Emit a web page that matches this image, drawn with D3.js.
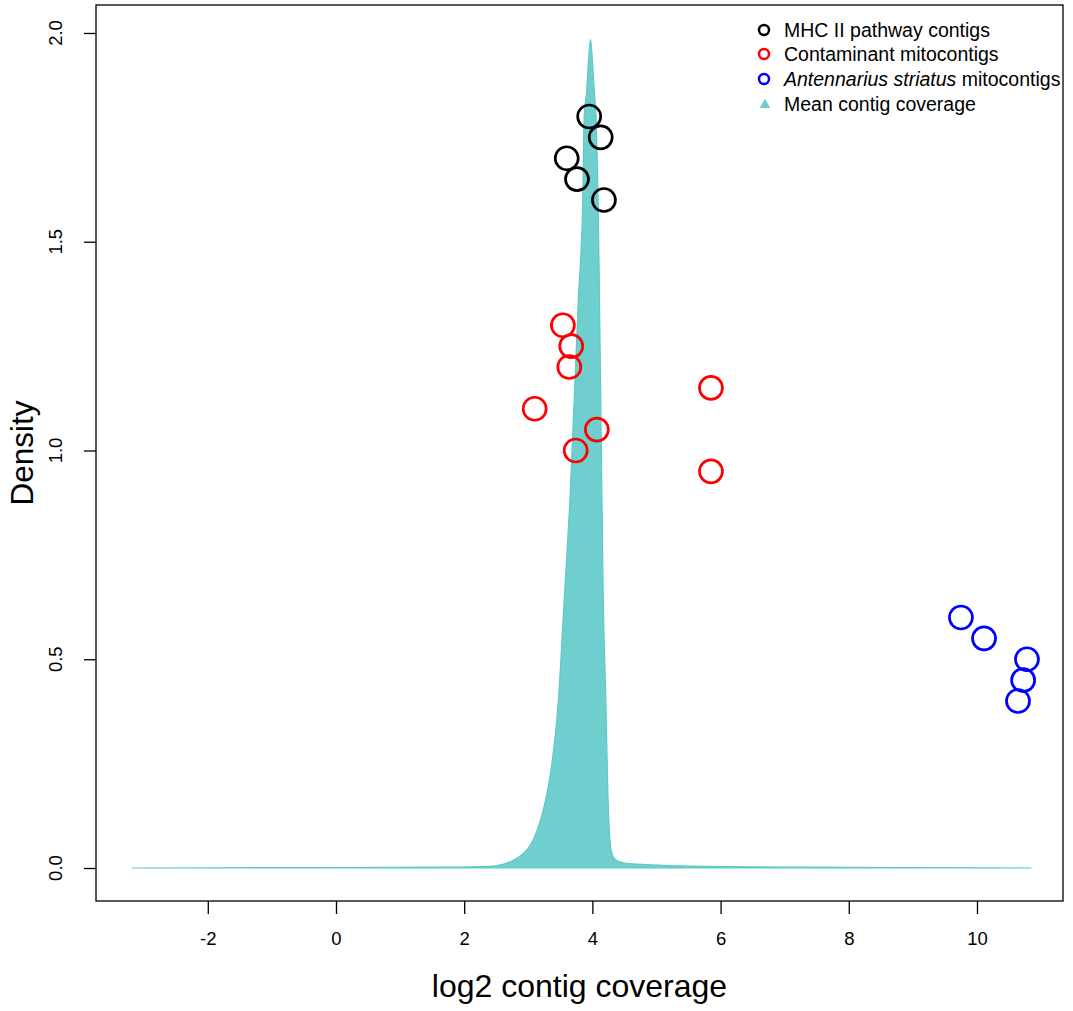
<!DOCTYPE html>
<html>
<head>
<meta charset="utf-8">
<script src="https://cdn.jsdelivr.net/npm/d3@7"></script>
<style>
  html, body { margin: 0; padding: 0; background: #fff; }
  svg { display: block; font-family: "Liberation Sans", Arial, Helvetica, sans-serif; }
</style>
</head>
<body>
<svg id="chart" width="1073" height="1011"></svg>
<script>
// Kernel density of log2 contig coverage
const densityX = [-3.19, -0.56, 1.78, 2.40, 2.60, 2.76, 2.90, 3.00, 3.10, 3.19, 3.28, 3.34, 3.47, 3.56, 3.65, 3.78, 3.85, 3.87, 3.91, 3.97,
                  4.03, 4.06, 4.09, 4.15, 4.17, 4.21, 4.24, 4.27, 4.30, 4.36, 4.50, 5.05, 5.37, 7.24, 8.80, 10.85];
const densityY = [0.000, 0.001, 0.002, 0.004, 0.009, 0.018, 0.032, 0.048, 0.075, 0.115, 0.170, 0.220, 0.402, 0.642, 0.881, 1.360, 1.600, 1.790, 1.860, 1.985,
                  1.860, 1.790, 1.600, 0.881, 0.642, 0.402, 0.190, 0.075, 0.038, 0.020, 0.012, 0.007, 0.005, 0.002, 0.001, 0.000];

// MHC II pathway contigs
const mhcX = [3.95, 4.13, 3.60, 3.76, 4.18];
const mhcY = [1.80, 1.75, 1.70, 1.65, 1.60];

// Contaminant mitocontigs
const contamX = [3.54, 3.67, 3.64, 5.85, 3.10, 4.07, 3.74, 5.85];
const contamY = [1.30, 1.25, 1.20, 1.15, 1.10, 1.05, 1.00, 0.95];

// Antennarius striatus mitocontigs
const antX = [9.75, 10.11, 10.78, 10.72, 10.64];
const antY = [0.60, 0.55, 0.50, 0.45, 0.40];

const xTicks = [-2, 0, 2, 4, 6, 8, 10];
const yTicks = [0.0, 0.5, 1.0, 1.5, 2.0];

const legendLabels = ["MHC II pathway contigs", "Contaminant mitocontigs", "Antennarius striatus|mitocontigs", "Mean contig coverage"];

const svg = d3.select("#chart");
const box = { left: 96, right: 1063, top: 5, bottom: 901 };

const x = d3.scaleLinear().domain([-3.744, 11.342]).range([box.left, box.right]);
const y = d3.scaleLinear().domain([-0.079, 2.067]).range([box.bottom, box.top]);

const teal = "#6fcfcf";

// density area
const pts = densityX.map((d, i) => [d, densityY[i]]);
const area = d3.area()
  .x(d => x(d[0]))
  .y0(y(0))
  .y1(d => y(d[1]))
  .curve(d3.curveMonotoneX);
svg.append("path")
  .datum(pts)
  .attr("d", area)
  .attr("fill", teal)
  .attr("stroke", "#5fc8c8")
  .attr("stroke-width", 1.2);

// point groups
function drawPoints(xs, ys, colour) {
  svg.append("g").selectAll("circle")
    .data(xs.map((d, i) => [d, ys[i]]))
    .join("circle")
    .attr("cx", d => x(d[0]))
    .attr("cy", d => y(d[1]))
    .attr("r", 11.5)
    .attr("fill", "none")
    .attr("stroke", colour)
    .attr("stroke-width", 2.7);
}
drawPoints(mhcX, mhcY, "#000000");
drawPoints(contamX, contamY, "#ff0000");
drawPoints(antX, antY, "#0000ff");

// plot frame
svg.append("rect")
  .attr("x", box.left).attr("y", box.top)
  .attr("width", box.right - box.left).attr("height", box.bottom - box.top)
  .attr("fill", "none").attr("stroke", "#000").attr("stroke-width", 1.3);

// x axis
const xAxis = d3.axisBottom(x).tickValues(xTicks).tickSize(13).tickPadding(18).tickFormat(d3.format("d"));
const gx = svg.append("g").attr("transform", `translate(0,${box.bottom})`).call(xAxis);
gx.select(".domain").remove();
gx.selectAll("line").attr("stroke", "#000").attr("stroke-width", 1.3);
gx.selectAll("text").attr("font-size", 18.5).attr("fill", "#000")
  .style("font-family", '"Liberation Sans", Arial, sans-serif')
  .text(d => d < 0 ? "-" + Math.abs(d) : d);

// y axis (labels rotated, as in base graphics)
const yAxis = d3.axisLeft(y).tickValues(yTicks).tickSize(12).tickFormat("");
const gy = svg.append("g").attr("transform", `translate(${box.left},0)`).call(yAxis);
gy.select(".domain").remove();
gy.selectAll("line").attr("stroke", "#000").attr("stroke-width", 1.3);
svg.append("g").selectAll("text")
  .data(yTicks)
  .join("text")
  .attr("transform", d => `translate(62,${y(d)}) rotate(-90)`)
  .attr("text-anchor", "middle")
  .attr("font-size", 18.5)
  .text(d => d3.format(".1f")(d));

// axis titles
svg.append("text")
  .attr("x", (box.left + box.right) / 2).attr("y", 997)
  .attr("text-anchor", "middle")
  .attr("font-size", 32)
  .text("log2 contig coverage");
svg.append("text")
  .attr("transform", `translate(33,${(box.top + box.bottom) / 2}) rotate(-90)`)
  .attr("text-anchor", "middle")
  .attr("font-size", 31.5)
  .text("Density");

// legend
const legendColours = ["#000000", "#ff0000", "#0000ff", teal];
const lg = svg.append("g");
const rowY = [30, 54, 79, 104];
legendLabels.forEach((lab, i) => {
  const cy = rowY[i];
  if (i < 3) {
    lg.append("circle").attr("cx", 764).attr("cy", cy).attr("r", 5)
      .attr("fill", "none").attr("stroke", legendColours[i]).attr("stroke-width", 2.5);
  } else {
    lg.append("path").attr("d", d3.symbol(d3.symbolTriangle, 50)())
      .attr("transform", `translate(765,${cy + 1})`)
      .attr("fill", legendColours[i]);
  }
  const t = lg.append("text").attr("x", 784).attr("y", cy + 7).attr("font-size", 19.5);
  const parts = lab.split("|");
  if (parts.length > 1) {
    t.append("tspan").attr("font-style", "italic").text(parts[0]);
    t.append("tspan").text(" " + parts[1]);
  } else {
    t.text(lab);
  }
});
</script>
</body>
</html>
